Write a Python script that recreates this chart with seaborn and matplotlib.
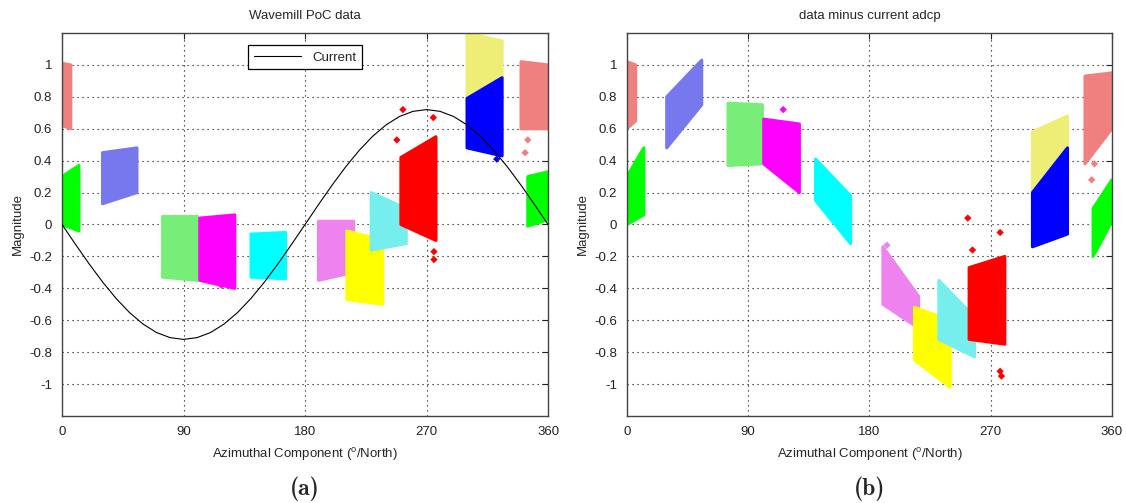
import os
import matplotlib
matplotlib.use("Agg")
import matplotlib.pyplot as plt
from matplotlib.font_manager import FontProperties
import seaborn as sns
import pandas as pd

# ---------------- data ----------------
cluster_colors = ["#f08080", "#00ff00", "#7777ee", "#77ee77", "#ff00ff", "#00ffff",
                  "#ee82ee", "#ffff00", "#77eeee", "#ff0000", "#eeee77", "#0000ff",
                  "#f08080", "#00ff00"]

# cluster envelopes: x start / end (deg), top and bottom magnitude at start / end
a_x0 = [0, 0, 30, 74.5, 102, 140, 190, 211, 229, 251, 300, 300, 340, 345]
a_x1 = [6.5, 12.5, 55.5, 100.5, 128, 165.5, 216, 237.5, 255, 277, 326, 326, 360, 360]
a_top0 = [1.01, 0.30, 0.45, 0.05, 0.04, -0.06, 0.02, -0.04, 0.20, 0.42, 1.20, 0.79, 1.02, 0.30]
a_top1 = [1.00, 0.37, 0.48, 0.05, 0.06, -0.05, 0.02, -0.10, 0.10, 0.55, 1.15, 0.92, 1.00, 0.33]
a_bot0 = [0.62, 0.00, 0.13, -0.33, -0.35, -0.33, -0.35, -0.47, -0.16, 0.00, 0.75, 0.48, 0.60, -0.01]
a_bot1 = [0.60, -0.04, 0.20, -0.35, -0.40, -0.34, -0.30, -0.50, -0.12, -0.10, 0.90, 0.43, 0.60, 0.03]

b_x0 = [0, 0, 29.5, 75, 101.5, 140, 190, 213.5, 231.5, 254, 301, 301, 340, 346]
b_x1 = [6.5, 12.5, 55.5, 100.5, 128, 166, 216.5, 240, 258, 280.5, 327, 327, 360, 360]
b_top0 = [1.02, 0.30, 0.80, 0.76, 0.66, 0.41, -0.14, -0.52, -0.35, -0.27, 0.58, 0.20, 0.93, 0.10]
b_top1 = [1.00, 0.48, 1.03, 0.75, 0.63, 0.18, -0.45, -0.60, -0.58, -0.20, 0.68, 0.48, 0.95, 0.28]
b_bot0 = [0.60, 0.00, 0.48, 0.37, 0.38, 0.15, -0.50, -0.85, -0.72, -0.72, 0.15, -0.14, 0.38, -0.20]
b_bot1 = [0.65, 0.06, 0.75, 0.38, 0.20, -0.12, -0.65, -1.02, -0.83, -0.75, 0.30, -0.06, 0.60, 0.02]

# isolated points (deg, magnitude, cluster index)
a_out_x = [252.5, 275, 275.5, 275.5, 345, 343, 322, 248, 118]
a_out_y = [0.72, 0.67, -0.17, -0.22, 0.53, 0.45, 0.41, 0.53, -0.38]
a_out_c = [9, 9, 9, 9, 12, 12, 11, 9, 4]
b_out_x = [253, 256.5, 277, 277, 278, 116, 193, 345, 347, 226]
b_out_y = [0.04, -0.16, -0.05, -0.92, -0.95, 0.72, -0.13, 0.28, 0.38, -0.88]
b_out_c = [9, 9, 9, 9, 9, 4, 6, 12, 12, 7]

# current (adcp) read at 10 degree steps
cur_deg = list(range(0, 361, 10))
cur_mag = [0.0, -0.125, -0.246, -0.36, -0.463, -0.552, -0.624, -0.677, -0.709, -0.72,
           -0.709, -0.677, -0.624, -0.552, -0.463, -0.36, -0.246, -0.125, 0.0,
           0.125, 0.246, 0.36, 0.463, 0.552, 0.624, 0.677, 0.709, 0.72,
           0.709, 0.677, 0.624, 0.552, 0.463, 0.36, 0.246, 0.125, 0.0]

x_ticks = [0, 90, 180, 270, 360]
y_ticks = [-1, -0.8, -0.6, -0.4, -0.2, 0, 0.2, 0.4, 0.6, 0.8, 1]
y_tick_labels = ["-1", "-0.8", "-0.6", "-0.4", "-0.2", "0", "0.2", "0.4", "0.6", "0.8", "1"]

titles = ["Wavemill PoC data", "data minus current adcp"]
panel_labels = ["(a)", "(b)"]
xlabel = r"Azimuthal Component ($^{\mathregular{o}}$/North)"
ylabel = "Magnitude"

# ---------------- style ----------------
sns.set_style("white")
plt.rcParams["font.family"] = ["Liberation Sans", "DejaVu Sans"]

cmb_path = os.path.join(matplotlib.get_data_path(), "fonts", "ttf", "cmb10.ttf")
if os.path.exists(cmb_path):
    label_font = FontProperties(fname=cmb_path, size=17)
else:
    label_font = FontProperties(family="DejaVu Serif", weight="bold", size=15)

fig = plt.figure(figsize=(11.26, 5.03), dpi=100)
ax_a = fig.add_axes([0.0551, 0.1730, 0.4316, 0.7614])
ax_b = fig.add_axes([0.5568, 0.1730, 0.4307, 0.7614])

def draw_clusters(ax, x0, x1, t0, t1, b0, b1, ox, oy, oc):
    for i, col in enumerate(cluster_colors):
        xs = [x0[i], x1[i], x1[i], x0[i]]
        ys = [t0[i], t1[i], b1[i], b0[i]]
        ax.fill(xs, ys, color=col, lw=2.2, ec=col, joinstyle="round", zorder=2)
    df = pd.DataFrame({"x": ox, "y": oy, "c": [cluster_colors[k] for k in oc]})
    sns.scatterplot(data=df, x="x", y="y", hue="c", palette={c: c for c in set(df["c"])},
                    marker="D", s=14, linewidth=0, legend=False, ax=ax, zorder=3)

draw_clusters(ax_a, a_x0, a_x1, a_top0, a_top1, a_bot0, a_bot1, a_out_x, a_out_y, a_out_c)
draw_clusters(ax_b, b_x0, b_x1, b_top0, b_top1, b_bot0, b_bot1, b_out_x, b_out_y, b_out_c)

cur_df = pd.DataFrame({"deg": cur_deg, "mag": cur_mag})
sns.lineplot(data=cur_df, x="deg", y="mag", color="black", lw=0.8, ax=ax_a,
             label="Current", zorder=4)
leg = ax_a.legend(loc="upper center", bbox_to_anchor=(0.5, 0.985), fontsize=9.5,
                  frameon=True, fancybox=False, edgecolor="black", framealpha=1,
                  handlelength=3.6, borderpad=0.45)
leg.get_frame().set_linewidth(0.9)

for ax, title, plab in zip([ax_a, ax_b], titles, panel_labels):
    ax.set_xlim(0, 360)
    ax.set_ylim(-1.2, 1.2)
    ax.set_xticks(x_ticks)
    ax.set_xticklabels([str(t) for t in x_ticks])
    ax.set_yticks(y_ticks)
    ax.set_yticklabels(y_tick_labels)
    ax.tick_params(direction="in", length=4, width=0.8, top=True, right=True,
                   labelsize=9.5, pad=7, colors="#222222")
    ax.grid(True, color="black", linestyle=(0, (1, 3.5)), linewidth=0.8, zorder=1)
    ax.set_axisbelow(True)
    for sp in ax.spines.values():
        sp.set_color("#444444")
        sp.set_linewidth(1.0)
    ax.set_title(title, fontsize=9.5, pad=10)
    ax.set_xlabel(xlabel, fontsize=9.5, labelpad=6)
    ax.set_ylabel(ylabel, fontsize=9.5, labelpad=4)
    ax.text(0.5, -0.19, plab, transform=ax.transAxes, ha="center", va="center",
            fontproperties=label_font)

fig.savefig("out.png", dpi=100)
